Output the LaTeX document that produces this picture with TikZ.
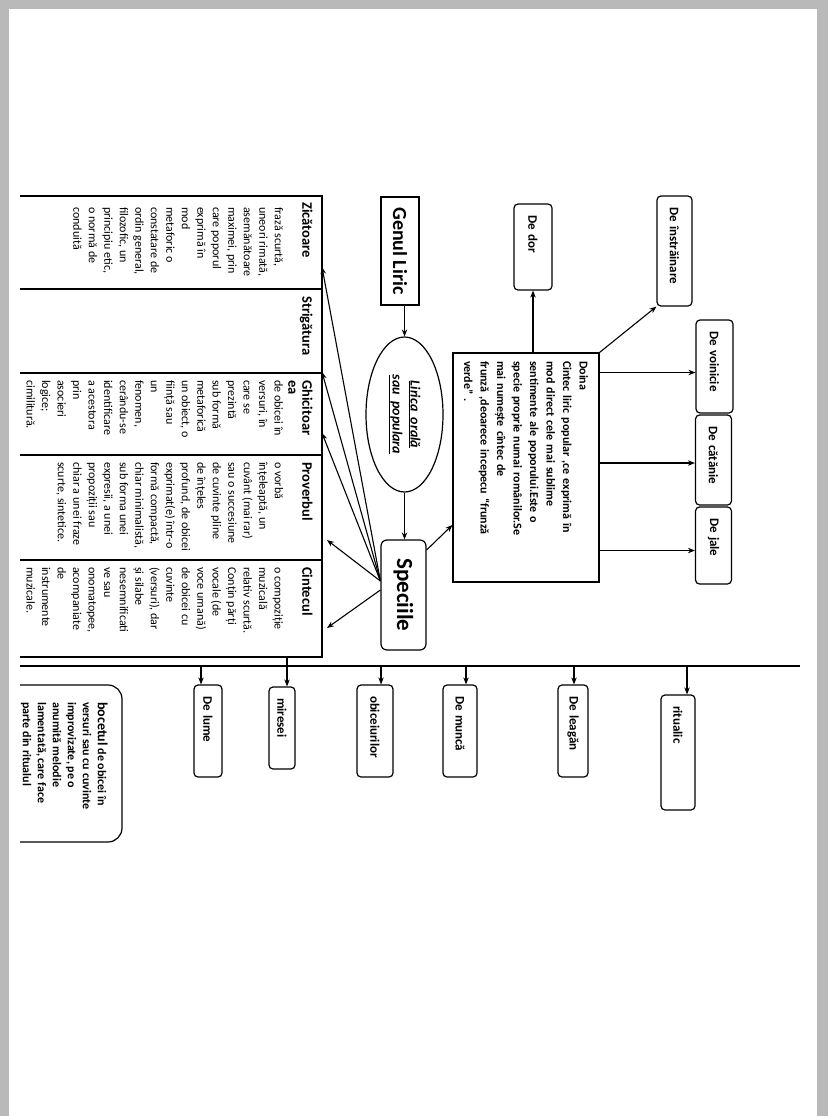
\documentclass[tikz,border=0pt]{standalone}
\usepackage{fontspec}
\setmainfont{Carlito}
\usetikzlibrary{arrows.meta,shapes.geometric,calc}
\begin{document}
\begin{tikzpicture}[x=1pt,y=-1pt,
  ln/.style={line width=1.2pt},
  arr/.style={line width=1.1pt,-{Stealth[length=7pt,width=5.5pt]}},
  thead/.style={rotate=-90,anchor=north west,inner sep=0pt,align=left,font=\bfseries\fontsize{14.5}{14}\selectfont},
  tbody/.style={rotate=-90,anchor=north west,inner sep=0pt,align=left,font=\fontsize{12}{15.5}\selectfont},
  sbox/.style={draw,line width=1.2pt,rounded corners=4pt,rotate=-90,align=left,inner xsep=11pt,inner ysep=0pt,font=\bfseries\fontsize{13}{15}\selectfont},
]
\useasboundingbox (0,0) rectangle (828,1116);
\fill[gray!55] (0,0) rectangle (828,1116);
\fill[white] (9,9) rectangle (817,1116);

% ---- table
\draw[ln] (20,196) -- (322,196) -- (322,657) -- (20,657);
\foreach \yy in {289,373,455,560} \draw[ln] (20,\yy) -- (322,\yy);

\node[thead] (hzic) at (312.8,202) {\strut Zicătoare};
\node[thead] (hstr) at (312.8,296) {\strut Strigătura};
\node[thead] (hghi) at (312.8,380) {\strut Ghicitoar\\ea};
\node[thead] (hpro) at (312.8,462) {\strut Proverbul};
\node[thead] (hcin) at (312.8,567) {\strut Cintecul};

\node[tbody] (bzic) at (285.8,207) {\strut frază scurtă,\\uneori rimată,\\asemănătoare\\maximei, prin\\care poporul\\exprimă în\\mod\\metaforic o\\constatare de\\ordin general,\\filozofic, un\\principiu etic,\\o normă de\\conduită};
\node[tbody] (bghi) at (285.8,380) {\strut de obicei în\\versuri, în\\care se\\prezintă\\sub formă\\metaforică\\un obiect, o\\ființă sau\\un\\fenomen,\\cerându-se\\identificare\\a acestora\\prin\\asocieri\\logice;\\cimilitură.};
\node[tbody] (bpro) at (285.8,462) {\strut o vorbă\\înțeleaptă, un\\cuvânt (mai rar)\\sau o succesiune\\de cuvinte pline\\de înțeles\\profund, de obicei\\exprimat(e) într-o\\formă compactă,\\chiar minimalistă,\\sub forma unei\\expresii, a unei\\propoziții sau\\chiar a unei fraze\\scurte, sintetice.};
\node[tbody] (bcin) at (285.8,567) {\strut o compoziție\\muzicală\\relativ scurtă.\\Conțin părți\\vocale (de\\voce umană)\\de obicei cu\\cuvinte\\(versuri), dar\\și silabe\\nesemnificati\\ve sau\\onomatopee,\\acompaniate\\de\\instrumente\\muzicale.};

\coordinate (tz) at (322,267);
\coordinate (ts) at (322,372);
\coordinate (tg) at (322,433);
\coordinate (tp) at (327,540);
\coordinate (tc) at (327,628);

% ---- centre column
\node[draw,ln,rotate=-90,minimum width=108,minimum height=38,inner sep=0pt,font=\bfseries\fontsize{20}{22}\selectfont] (genul) at (400,251) {Genul Liric};
\node[draw,ln,ellipse,rotate=-90,minimum width=155,minimum height=77,inner sep=0pt,align=center,font=\bfseries\itshape\fontsize{14}{18}\selectfont] (lirica) at (404.5,414.5) {\underline{Lirica\ \ orală}\\\underline{sau\ \ populara}};
\node[draw,ln,rotate=-90,rounded corners=6pt,minimum width=110,minimum height=45,inner sep=0pt,font=\bfseries\fontsize{23}{25}\selectfont] (spec) at (403.5,595) {Speciile};

\draw[arr] (lirica.west |- genul.east) -- (lirica.west);
\draw[arr] (lirica.east) -- (lirica.east |- spec.west);

\coordinate (s1) at ($(spec.south)+(0,-14)$);
\coordinate (s2) at ($(spec.south)+(0,-5)$);
\draw[arr] (s1) -- (tz);
\draw[arr] (s1) -- (ts);
\draw[arr] (s1) -- (tg);
\draw[arr] (s1) -- (tp);
\draw[arr] (s2) -- (tc);

% ---- Doina
\node[draw,ln,rotate=-90,minimum width=229,minimum height=146,text width=213,inner xsep=8pt,inner ysep=0pt,align=left,font=\bfseries\fontsize{12}{16.5}\selectfont] (doina) at (526,467.5) {Doina\\Cintec liric popular ,ce exprimă în\\mod direct cele mai sublime\\sentimente ale poporului.Este o\\specie proprie numai românilor.Se\\mai numește cîntec de\\frunză ,deoarece incepecu “frunză\\verde” .};
\coordinate (sd) at ($(spec.north)+(0,-45)$);
\coordinate (dd) at ($(doina.south)+(0,57.5)$);
\draw[arr] (sd) -- (dd);

\node[sbox,text width=64,minimum height=38] (dedor) at (533,247) {De dor};
\node[sbox,text width=88,minimum height=35] (destr) at (674.5,251) {De înstrăinare};
\node[sbox,text width=71,minimum height=37] (voin) at (714.5,366.5) {De voinicie};
\node[sbox,text width=68,minimum height=36] (cat) at (713.5,460) {De cătănie};
\node[sbox,text width=55,minimum height=36] (jale) at (713.5,545.5) {De jale};

\draw[arr] (doina.west -| dedor.east) -- (dedor.east);
\draw[arr] (doina.north west) -- (destr.south east);
\coordinate (v1) at ($(voin.south)+(0,6)$);
\coordinate (v2) at ($(cat.south)+(0,3)$);
\coordinate (v3) at ($(jale.south)+(0,5)$);
\draw[arr] (doina.north |- v1) -- (v1);
\draw[arr] (doina.north |- v2) -- (v2);
\draw[arr] (doina.north |- v3) -- (v3);

% ---- lower line and boxes
\coordinate (L1) at (20,666);
\coordinate (L2) at (800,666);
\draw[ln] (L1) -- (L2);

\node[sbox,text width=70,minimum height=28] (delume) at (208,731) {De lume};
\node[sbox,text width=60,minimum height=26] (miresei) at (282,728) {miresei};
\node[sbox,text width=70,minimum height=36] (obic) at (375,731) {obiceiurilor};
\node[sbox,text width=70,minimum height=34] (munca) at (460,731) {De muncă};
\node[sbox,text width=70,minimum height=30] (leagan) at (573,731) {De leagăn};
\node[sbox,text width=93,minimum height=34] (ritual) at (678,752.5) {ritualic};

\coordinate (d1) at (201,666);
\coordinate (d2) at (287,657);
\coordinate (d3) at (381,666);
\coordinate (d4) at (466,666);
\coordinate (d5) at (574,666);
\coordinate (d6) at (687,666);
\draw[arr] (d1) -- (d1 |- delume.west);
\draw[arr] (d2) -- (d2 |- miresei.west);
\draw[arr] (d3) -- (d3 |- obic.west);
\draw[arr] (d4) -- (d4 |- munca.west);
\draw[arr] (d5) -- (d5 |- leagan.west);
\draw[arr] (d6) -- (d6 |- ritual.west);

% ---- bocetul
\draw[ln,rounded corners=14pt] (20,685) -- (122,685) -- (122,842) -- (20,842);
\node[rotate=-90,anchor=north west,inner sep=0pt,align=left,font=\bfseries\fontsize{12}{15}\selectfont] (boc) at (108.5,702) {\strut{\fontsize{14}{15}\selectfont bocetul} de obicei în\\versuri sau cu cuvinte\\improvizate, pe o\\anumită melodie\\lamentată, care face\\parte din ritualul};
\end{tikzpicture}
\end{document}
